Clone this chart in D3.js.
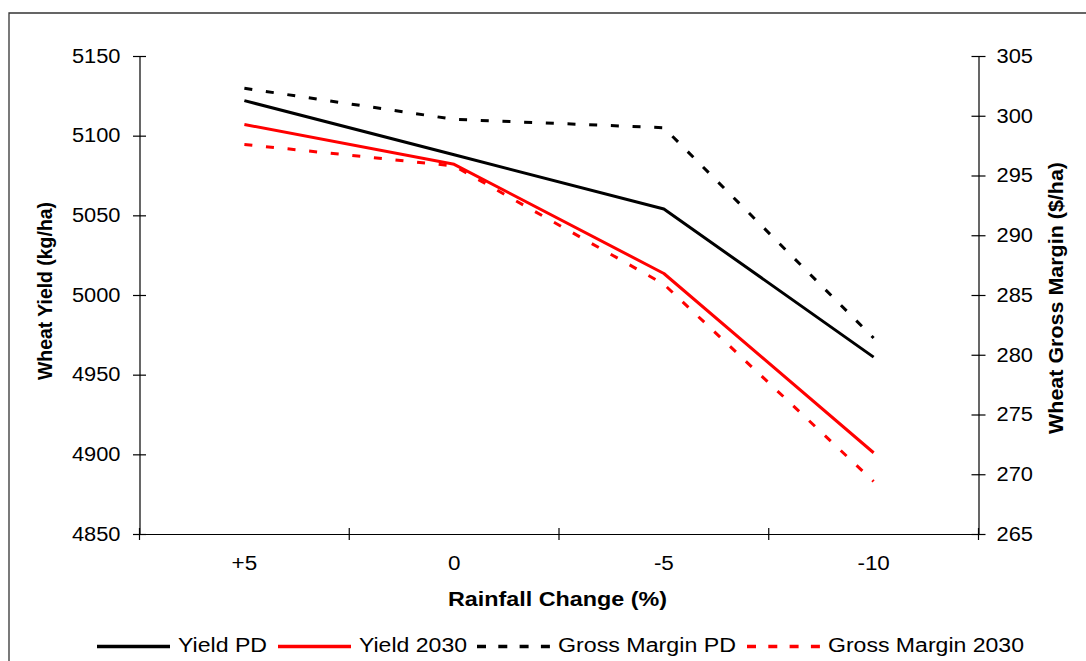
<!DOCTYPE html>
<html>
<head>
<meta charset="utf-8">
<script src="https://cdn.jsdelivr.net/npm/d3@7"></script>
<style>
  html, body { margin: 0; padding: 0; background: #fff; }
  svg { display: block; }
  text { font-family: "Liberation Sans", Arial, sans-serif; fill: #000; }
</style>
</head>
<body>
<svg id="chart" width="1086" height="661"></svg>
<script>
// ---- data ----
const categories = ["+5", "0", "-5", "-10"];
const yieldPD = [5122, 5088, 5054, 4961];
const yield2030 = [5107, 5082, 5013.5, 4901];
const grossMarginPD = [302.3, 299.7, 299.0, 281.4];
const grossMargin2030 = [297.6, 295.8, 285.9, 269.4];
const leftTicks = [4850, 4900, 4950, 5000, 5050, 5100, 5150];
const rightTicks = [265, 270, 275, 280, 285, 290, 295, 300, 305];
const seriesNames = ["Yield PD", "Yield 2030", "Gross Margin PD", "Gross Margin 2030"];
const xTitle = "Rainfall Change (%)";
const yLeftTitle = "Wheat Yield (kg/ha)";
const yRightTitle = "Wheat Gross Margin ($/ha)";

// ---- layout ----
const svg = d3.select("#chart");
const L = 139.5, R = 978.5, T = 56, B = 534;
const FS = 19.5;

function stretch(sel, f) {
  sel.each(function () {
    const w = this.getComputedTextLength();
    this.setAttribute("textLength", w * f);
    this.setAttribute("lengthAdjust", "spacingAndGlyphs");
  });
}
function fixLen(sel, len) {
  sel.attr("textLength", len).attr("lengthAdjust", "spacingAndGlyphs");
}

svg.append("rect").attr("width", 1086).attr("height", 661).attr("fill", "#fff");
// outer frame (cropped at right/bottom)
svg.append("path").attr("d", "M9,700 L9,13 L1100,13")
  .attr("fill", "none").attr("stroke", "#333").attr("stroke-width", 1.3);

const x = d3.scaleBand().domain(categories).range([L, R]).padding(0);
const yL = d3.scaleLinear().domain([4850, 5150]).range([B, T]);
const yR = d3.scaleLinear().domain([265, 305]).range([B, T]);
const cx = c => x(c) + x.bandwidth() / 2;

// left axis
const gL = svg.append("g").attr("transform", `translate(${L},0)`)
  .call(d3.axisLeft(yL).tickValues(leftTicks).tickSize(0).tickPadding(19).tickFormat(d3.format("d")));
gL.select(".domain").attr("stroke", "#000").attr("stroke-width", 1.2);
gL.selectAll(".tick line").attr("x1", -6.5).attr("x2", 6.5).attr("stroke", "#000").attr("stroke-width", 1.2);
gL.selectAll(".tick text").style("font-size", FS + "px").style("font-family", "Liberation Sans, Arial, sans-serif");
stretch(gL.selectAll(".tick text"), 1.12);

// right axis
const gR = svg.append("g").attr("transform", `translate(${R},0)`)
  .call(d3.axisRight(yR).tickValues(rightTicks).tickSize(0).tickPadding(18).tickFormat(d3.format("d")));
gR.select(".domain").attr("stroke", "#000").attr("stroke-width", 1.2);
gR.selectAll(".tick line").attr("x1", -7).attr("x2", 7).attr("stroke", "#000").attr("stroke-width", 1.2);
gR.selectAll(".tick text").style("font-size", FS + "px").style("font-family", "Liberation Sans, Arial, sans-serif");
stretch(gR.selectAll(".tick text"), 1.12);

// bottom axis
const gB = svg.append("g").attr("transform", `translate(0,${B})`)
  .call(d3.axisBottom(x).tickSize(0).tickPadding(22).tickSizeOuter(0));
gB.select(".domain").attr("stroke", "#000").attr("stroke-width", 1.2);
gB.selectAll(".tick text").style("font-size", FS + "px").style("font-family", "Liberation Sans, Arial, sans-serif");
stretch(gB.selectAll(".tick text"), 1.15);
const bounds = categories.map(c => x(c)).concat([x.range()[1]]);
gB.selectAll(".bnd").data(bounds).join("line").attr("class", "bnd")
  .attr("x1", d => d).attr("x2", d => d).attr("y1", -6).attr("y2", 6)
  .attr("stroke", "#000").attr("stroke-width", 1.2);

// titles
const tB = svg.append("text").attr("x", 557.5).attr("y", 606).attr("text-anchor", "middle")
  .style("font-size", "20px").style("font-weight", "bold").text(xTitle);
fixLen(tB, 219);
const tL = svg.append("text").attr("transform", "translate(51.5,291) rotate(-90)").attr("text-anchor", "middle")
  .style("font-size", "20px").style("font-weight", "bold").text(yLeftTitle);
fixLen(tL, 178);
const tR = svg.append("text").attr("transform", "translate(1063,298) rotate(-90)").attr("text-anchor", "middle")
  .style("font-size", "20px").style("font-weight", "bold").text(yRightTitle);
fixLen(tR, 272);

// series
const series = [
  { name: seriesNames[0], values: yieldPD, scale: yL, color: "#000", dash: null },
  { name: seriesNames[1], values: yield2030, scale: yL, color: "#ff0000", dash: null },
  { name: seriesNames[2], values: grossMarginPD, scale: yR, color: "#000", dash: "8,13.7" },
  { name: seriesNames[3], values: grossMargin2030, scale: yR, color: "#ff0000", dash: "8,13.7" }
];
series.forEach(s => {
  const line = d3.line().x((d, i) => cx(categories[i])).y(d => s.scale(d));
  svg.append("path").attr("d", line(s.values)).attr("fill", "none")
    .attr("stroke", s.color).attr("stroke-width", 3)
    .attr("stroke-linejoin", "round")
    .attr("stroke-dasharray", s.dash);
});

// legend (layout positions)
const legLineX = [97, 278, 477, 747];
const legTextW = [89, 108, 178, 196];
const ly = 646.5;
const leg = svg.append("g");
series.forEach((s, i) => {
  const lx = legLineX[i];
  leg.append("line").attr("x1", lx).attr("x2", lx + 73).attr("y1", ly).attr("y2", ly)
    .attr("stroke", s.color).attr("stroke-width", 3.6)
    .attr("stroke-dasharray", s.dash ? "9,12.3" : null);
  const t = leg.append("text").attr("x", lx + 81).attr("y", 651.5)
    .style("font-size", FS + "px").text(s.name);
  fixLen(t, legTextW[i]);
});
</script>
</body>
</html>
